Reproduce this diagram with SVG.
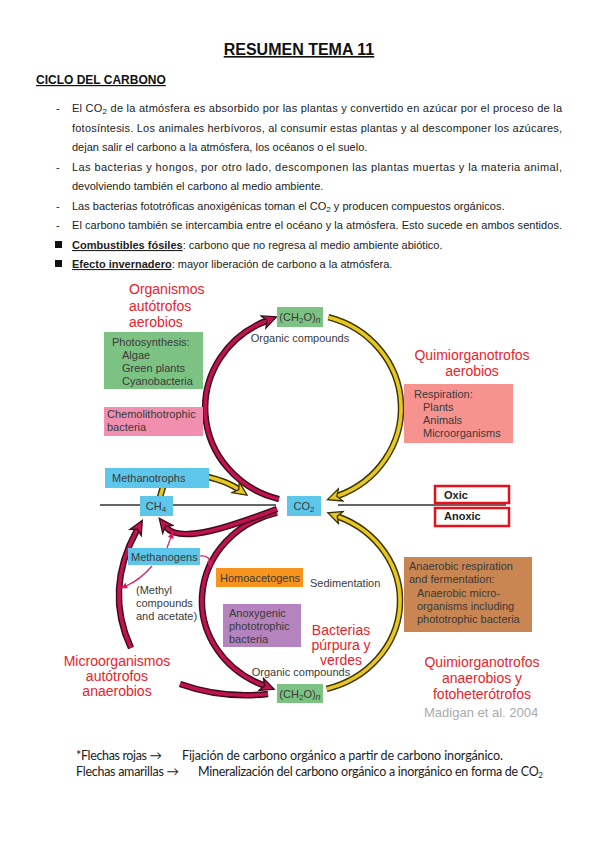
<svg xmlns="http://www.w3.org/2000/svg" width="599" height="848" viewBox="0 0 599 848">
<style>
text{font-family:"Liberation Sans",Arial,sans-serif}
.body{font-size:11px;fill:#222}
.lbl{font-size:11px;fill:#3a3a3a}
.red{font-size:14px;fill:#e8232b}
.ro{fill:none;stroke:#3d0b1c;stroke-width:6.5}
.ri{fill:none;stroke:#c0134f;stroke-width:3.6}
.yo{fill:none;stroke:#3b3300;stroke-width:6.5}
.yi{fill:none;stroke:#e8c81e;stroke-width:3.6}
.thin{fill:none;stroke:#d81b5e;stroke-width:1.2}
.note{font-family:Lato,"Liberation Sans",sans-serif;font-size:12.5px;fill:#222}
</style>
<defs>
<marker id="rh" markerUnits="userSpaceOnUse" viewBox="-1 -8 18 16" markerWidth="18" markerHeight="16" refX="3" refY="0" orient="auto"><path d="M0,-6.5 L14,0 L0,6.5 L4,0 z" fill="#c0134f" stroke="#3d0b1c" stroke-width="1.3"/></marker>
<marker id="yh" markerUnits="userSpaceOnUse" viewBox="-1 -8 18 16" markerWidth="18" markerHeight="16" refX="3" refY="0" orient="auto"><path d="M0,-6.5 L14,0 L0,6.5 L4,0 z" fill="#e8c81e" stroke="#3b3300" stroke-width="1.3"/></marker>
<marker id="th" markerUnits="userSpaceOnUse" viewBox="0 -4 8 8" markerWidth="8" markerHeight="8" refX="1" refY="0" orient="auto"><path d="M0,-3 L7,0 L0,3 z" fill="#d81b5e"/></marker>
</defs>

<g id="header">
<text x="299" y="55" text-anchor="middle" font-size="16" font-weight="bold" text-decoration="underline" fill="#111">RESUMEN TEMA 11</text>
<text x="36" y="84" font-size="12" font-weight="bold" text-decoration="underline" fill="#111">CICLO DEL CARBONO</text>
<g class="body">
<text x="56" y="112">-</text>
<text x="72" y="112" textLength="490" lengthAdjust="spacing">El CO<tspan font-size="8" dy="2">2</tspan><tspan dy="-2"> de la atmósfera es absorbido por las plantas y convertido en azúcar por el proceso de la</tspan></text>
<text x="72" y="131.5" textLength="490" lengthAdjust="spacing">fotosíntesis. Los animales herbívoros, al consumir estas plantas y al descomponer los azúcares,</text>
<text x="72" y="151">dejan salir el carbono a la atmósfera, los océanos o el suelo.</text>
<text x="56" y="171">-</text>
<text x="72" y="171" textLength="490" lengthAdjust="spacing">Las bacterias y hongos, por otro lado, descomponen las plantas muertas y la materia animal,</text>
<text x="72" y="190">devolviendo también el carbono al medio ambiente.</text>
<text x="56" y="210">-</text>
<text x="72" y="210">Las bacterias fototróficas anoxigénicas toman el CO<tspan font-size="8" dy="2">2</tspan><tspan dy="-2"> y producen compuestos orgánicos.</tspan></text>
<text x="56" y="229">-</text>
<text x="72" y="229" textLength="490" lengthAdjust="spacing">El carbono también se intercambia entre el océano y la atmósfera. Esto sucede en ambos sentidos.</text>
<rect x="55" y="241" width="7" height="7" fill="#111"/>
<text x="72" y="249"><tspan font-weight="bold" text-decoration="underline">Combustibles fósiles</tspan>: carbono que no regresa al medio ambiente abiótico.</text>
<rect x="55" y="260" width="7" height="7" fill="#111"/>
<text x="72" y="268"><tspan font-weight="bold" text-decoration="underline">Efecto invernadero</tspan>: mayor liberación de carbono a la atmósfera.</text>
</g>
</g>

<g id="interface" stroke="#333" stroke-width="1.3">
<line x1="100" y1="505" x2="276" y2="505"/>
<line x1="338" y1="505" x2="506" y2="505"/>
</g>

<g id="connectors">
<!-- top cycle -->
<path class="ro" d="M279 499.1 A98 94 0 0 1 266.3 320.9"/>
<path class="ri" d="M279 499.1 A98 94 0 0 1 266.3 320.9" marker-end="url(#rh)"/>
<path class="yo" d="M328.4 317.2 A98 94 0 0 1 337.8 495.9"/>
<path class="yi" d="M328.4 317.2 A98 94 0 0 1 337.8 495.9" marker-end="url(#yh)"/>
<!-- bottom cycle -->
<path class="ro" d="M277 512.7 A99 91 0 0 0 263.9 685.4"/>
<path class="ri" d="M277 512.7 A99 91 0 0 0 263.9 685.4" marker-end="url(#rh)"/>
<path class="yo" d="M326.6 688.9 A99 91 0 0 0 338.1 516.6"/>
<path class="yi" d="M326.6 688.9 A99 91 0 0 0 338.1 516.6" marker-end="url(#yh)"/>
<!-- CO2 to CH4 -->
<path class="ro" d="M277 509 C235 525 180 545 166 527"/>
<path class="ri" d="M277 509 C235 525 180 545 166 527" marker-end="url(#rh)"/>
<!-- big left arc to CH4 -->
<path class="ro" d="M131 648 Q104 590 137 530"/>
<path class="ri" d="M131 648 Q104 590 137 530" marker-end="url(#rh)"/>
<!-- bottom-left to (CH2O)n -->
<path class="ro" d="M180 684 Q222 699 268 694"/>
<path class="ri" d="M180 684 Q222 699 268 694"/>
<!-- methanotrophs to CO2 -->
<path class="yo" d="M187 473 Q222 478 238 489"/>
<path class="yi" d="M187 473 Q222 478 238 489" marker-end="url(#yh)"/>
<path class="yo" d="M163 487 L160 497"/>
<path class="yi" d="M163 487 L160 497"/>
<!-- thin methanogen arrows -->
<path class="thin" d="M167 548 L171 537" marker-end="url(#th)"/>
<path class="thin" d="M200 556 Q209 555 210 562" marker-end="url(#th)"/>
<path class="thin" d="M152 566 Q140 580 126 586" marker-end="url(#th)"/>
</g>

<g id="ch2o-top">
<rect x="277" y="307" width="46" height="20" fill="#7cc283"/>
<text class="lbl" x="300" y="321" text-anchor="middle">(CH<tspan font-size="8" dy="2">2</tspan><tspan dy="-2">O)</tspan><tspan font-size="9" font-style="italic" dy="2">n</tspan></text>
<text class="lbl" x="300" y="342" text-anchor="middle" fill="#555">Organic compounds</text>
</g>
<g id="co2">
<rect x="287" y="496" width="34" height="20" fill="#5dc6ea"/>
<text class="lbl" x="304" y="510" text-anchor="middle">CO<tspan font-size="8" dy="2">2</tspan></text>
</g>
<g id="ch4">
<rect x="140" y="496" width="33" height="20" fill="#5dc6ea"/>
<text class="lbl" x="156" y="510" text-anchor="middle">CH<tspan font-size="8" dy="2">4</tspan></text>
</g>
<g id="methanotrophs">
<rect x="105" y="468" width="104" height="20" fill="#5dc6ea"/>
<text class="lbl" x="112" y="482">Methanotrophs</text>
</g>
<g id="methanogens">
<rect x="128" y="548" width="72" height="17" fill="#5dc6ea"/>
<text class="lbl" x="131" y="560.5">Methanogens</text>
</g>
<g id="methyl">
<text class="lbl" x="136" y="594">(Methyl</text>
<text class="lbl" x="136" y="607">compounds</text>
<text class="lbl" x="136" y="620">and acetate)</text>
</g>
<g id="ch2o-bottom">
<rect x="277" y="684" width="46" height="19" fill="#7cc283"/>
<text class="lbl" x="300" y="698" text-anchor="middle">(CH<tspan font-size="8" dy="2">2</tspan><tspan dy="-2">O)</tspan><tspan font-size="9" font-style="italic" dy="2">n</tspan></text>
<text class="lbl" x="301" y="676" text-anchor="middle" fill="#555">Organic compounds</text>
</g>
<g id="photosynthesis">
<rect x="104" y="332" width="99" height="57" fill="#7cc283"/>
<text class="lbl" x="112" y="346">Photosynthesis:</text>
<text class="lbl" x="122" y="359">Algae</text>
<text class="lbl" x="122" y="372">Green plants</text>
<text class="lbl" x="122" y="385">Cyanobacteria</text>
</g>
<g id="chemolitho">
<rect x="104" y="407" width="99" height="29" fill="#f08fae"/>
<text class="lbl" x="107" y="418">Chemolithotrophic</text>
<text class="lbl" x="107" y="431">bacteria</text>
</g>
<g id="respiration">
<rect x="404" y="384" width="109" height="59" fill="#f7938f"/>
<text class="lbl" x="414" y="398">Respiration:</text>
<text class="lbl" x="423" y="411">Plants</text>
<text class="lbl" x="423" y="424">Animals</text>
<text class="lbl" x="423" y="437">Microorganisms</text>
</g>
<g id="homoacetogens">
<rect x="216" y="568" width="87" height="19" fill="#f7941e"/>
<text class="lbl" x="220" y="582">Homoacetogens</text>
<text class="lbl" x="310" y="587">Sedimentation</text>
</g>
<g id="anoxygenic">
<rect x="223" y="604" width="78" height="43" fill="#b583bd"/>
<text class="lbl" x="229" y="617">Anoxygenic</text>
<text class="lbl" x="229" y="630">phototrophic</text>
<text class="lbl" x="229" y="643">bacteria</text>
</g>
<g id="anaerobic">
<rect x="404" y="557" width="128" height="75" fill="#c98552"/>
<text class="lbl" x="409" y="570">Anaerobic respiration</text>
<text class="lbl" x="409" y="583">and fermentation:</text>
<text class="lbl" x="417" y="597">Anaerobic micro-</text>
<text class="lbl" x="417" y="610">organisms including</text>
<text class="lbl" x="417" y="623">phototrophic bacteria</text>
</g>
<g id="oxic">
<rect x="435" y="486" width="74" height="17" fill="none" stroke="#e8101a" stroke-width="2.5"/>
<text x="444" y="499" font-size="11" font-weight="bold" fill="#222">Oxic</text>
</g>
<g id="anoxic">
<rect x="435" y="508" width="74" height="18" fill="none" stroke="#e8101a" stroke-width="2.5"/>
<text x="444" y="520" font-size="11" font-weight="bold" fill="#222">Anoxic</text>
</g>

<g id="labels">
<text class="red" x="129" y="294">Organismos</text>
<text class="red" x="129" y="311">autótrofos</text>
<text class="red" x="129" y="327">aerobios</text>
<text class="red" x="472" y="360" text-anchor="middle">Quimiorganotrofos</text>
<text class="red" x="472" y="376" text-anchor="middle">aerobios</text>
<text class="red" x="341" y="635" text-anchor="middle">Bacterias</text>
<text class="red" x="341" y="650" text-anchor="middle">púrpura y</text>
<text class="red" x="341" y="665" text-anchor="middle">verdes</text>
<text class="red" x="117" y="666" text-anchor="middle">Microorganismos</text>
<text class="red" x="117" y="681" text-anchor="middle">autótrofos</text>
<text class="red" x="117" y="696" text-anchor="middle">anaerobios</text>
<text class="red" x="482" y="667" text-anchor="middle">Quimiorganotrofos</text>
<text class="red" x="482" y="683" text-anchor="middle">anaerobios y</text>
<text class="red" x="482" y="699" text-anchor="middle">fotoheterótrofos</text>
<text x="424" y="717" font-size="13" fill="#aaa">Madigan et al. 2004</text>
</g>

<g id="notes">
<text class="note" x="76" y="760" textLength="86" lengthAdjust="spacing">*Flechas rojas →</text>
<text class="note" x="182" y="760" textLength="321" lengthAdjust="spacing">Fijación de carbono orgánico a partir de carbono inorgánico.</text>
<text class="note" x="76" y="776" textLength="103" lengthAdjust="spacing">Flechas amarillas →</text>
<text class="note" x="198" y="776" textLength="345" lengthAdjust="spacing">Mineralización del carbono orgánico a inorgánico en forma de CO<tspan font-size="8" dy="2">2</tspan></text>
</g>
</svg>
